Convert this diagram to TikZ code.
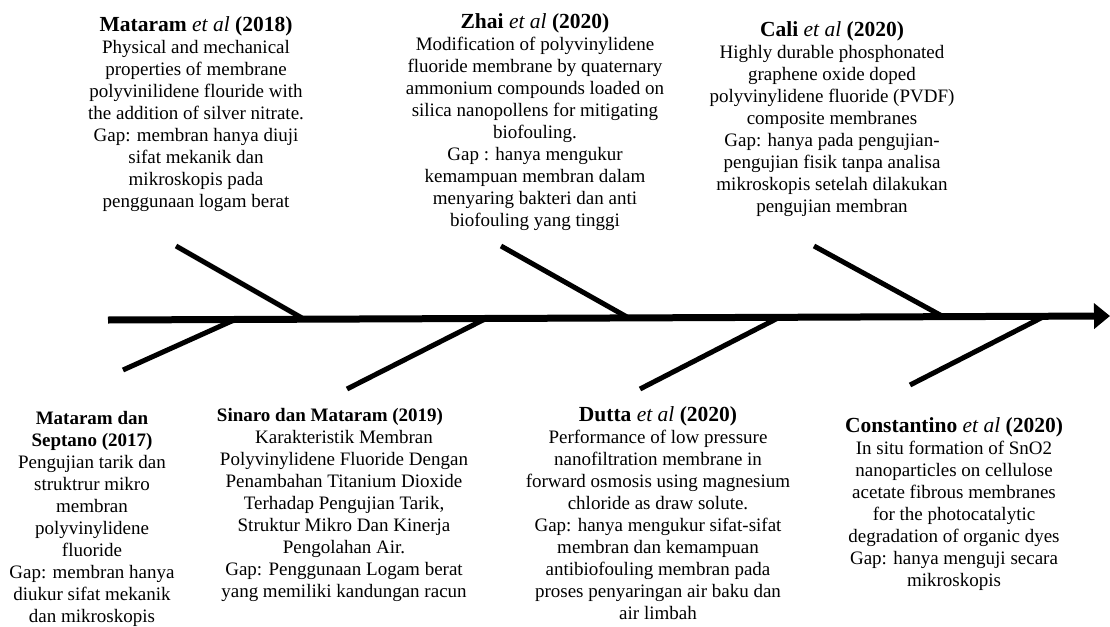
\documentclass[tikz,border=0pt]{standalone}
\usepackage{fontspec}
\setmainfont{Liberation Serif}
\usetikzlibrary{arrows.meta,positioning}

% judul referensi (lebih besar)
\newcommand{\refttl}[2]{{\fontsize{21.5}{22}\selectfont\textbf{#1} \textit{et al} \textbf{(#2)}}}

\begin{document}
\begin{tikzpicture}[
            x=1pt, y=-1pt,
            font=\fontsize{19}{22}\selectfont,
            ref/.style={align=center, inner sep=0pt, anchor=north},
            spine/.style={line width=7pt, -{Triangle[length=16pt,width=25pt]}},
            bone/.style={line width=5pt}
        ]
        \useasboundingbox (0,0) rectangle (1110,626);

        % Spina
        \coordinate (tail) at (108,320);
        \coordinate (head) at (1110,316);

        % Tulang atas
        \coordinate (u1a) at (176,246);  \coordinate (u1b) at (302,318);
        \coordinate (u2a) at (501,246);  \coordinate (u2b) at (627,317);
        \coordinate (u3a) at (814,246);  \coordinate (u3b) at (942,316);

        % Tulang bawah
        \coordinate (l1a) at (123,370);  \coordinate (l1b) at (234,320);
        \coordinate (l2a) at (347,389);  \coordinate (l2b) at (485,319);
        \coordinate (l3a) at (640,389);  \coordinate (l3b) at (778,318);
        \coordinate (l4a) at (910,385);  \coordinate (l4b) at (1043,317);

        % Referensi atas
        \node (mataram18) [ref] at (196,16) {\refttl{Mataram}{2018}\\
            Physical and mechanical\\ properties of membrane\\ polyvinilidene flouride with\\
            the addition of silver nitrate.\\ Gap: membran hanya diuji\\ sifat mekanik dan\\
            mikroskopis pada\\ penggunaan logam berat};
        \node (zhai) [ref] at (535,13) {\refttl{Zhai}{2020}\\
            Modification of polyvinylidene\\ fluoride membrane by quaternary\\
            ammonium compounds loaded on\\ silica nanopollens for mitigating\\ biofouling.\\
            Gap : hanya mengukur\\ kemampuan membran dalam\\ menyaring bakteri dan anti\\
            biofouling yang tinggi};
        \node (cali) [ref] at (832,21) {\refttl{Cali}{2020}\\
            Highly durable phosphonated\\ graphene oxide doped\\ polyvinylidene fluoride (PVDF)\\
            composite membranes\\ Gap: hanya pada pengujian-\\ pengujian fisik tanpa analisa\\
            mikroskopis setelah dilakukan\\ pengujian membran};

        % Referensi bawah
        \node (septano) [ref] at (92,411) {\textbf{Mataram dan}\\ \textbf{Septano (2017)}\\
            Pengujian tarik dan\\ struktrur mikro\\ membran\\ polyvinylidene\\ fluoride\\
            Gap: membran hanya\\ diukur sifat mekanik\\ dan mikroskopis};
        \node (sinaro) [ref] at (344,408) {\textbf{Sinaro dan Mataram (2019)}\hspace*{28pt}\\
            Karakteristik Membran\\ Polyvinylidene Fluoride Dengan\\ Penambahan Titanium Dioxide\\
            Terhadap Pengujian Tarik,\\ Struktur Mikro Dan Kinerja\\ Pengolahan Air.\\
            Gap: Penggunaan Logam berat\\ yang memiliki kandungan racun};
        \node (dutta) [ref] at (658,406) {\refttl{Dutta}{2020}\\
            Performance of low pressure\\ nanofiltration membrane in\\
            forward osmosis using magnesium\\ chloride as draw solute.\\
            Gap: hanya mengukur sifat-sifat\\ membran dan kemampuan\\
            antibiofouling membran pada\\ proses penyaringan air baku dan\\ air limbah};
        \node (constantino) [ref] at (954,417) {\refttl{Constantino}{2020}\\
            In situ formation of SnO2\\ nanoparticles on cellulose\\ acetate fibrous membranes\\
            for the photocatalytic\\ degradation of organic dyes\\ Gap: hanya menguji secara\\
            mikroskopis};

        % Garis
        \draw [spine] (tail) -- (head);
        \draw [bone] (u1a) -- (u1b);
        \draw [bone] (u2a) -- (u2b);
        \draw [bone] (u3a) -- (u3b);
        \draw [bone] (l1a) -- (l1b);
        \draw [bone] (l2a) -- (l2b);
        \draw [bone] (l3a) -- (l3b);
        \draw [bone] (l4a) -- (l4b);

    \end{tikzpicture}
\end{document}
